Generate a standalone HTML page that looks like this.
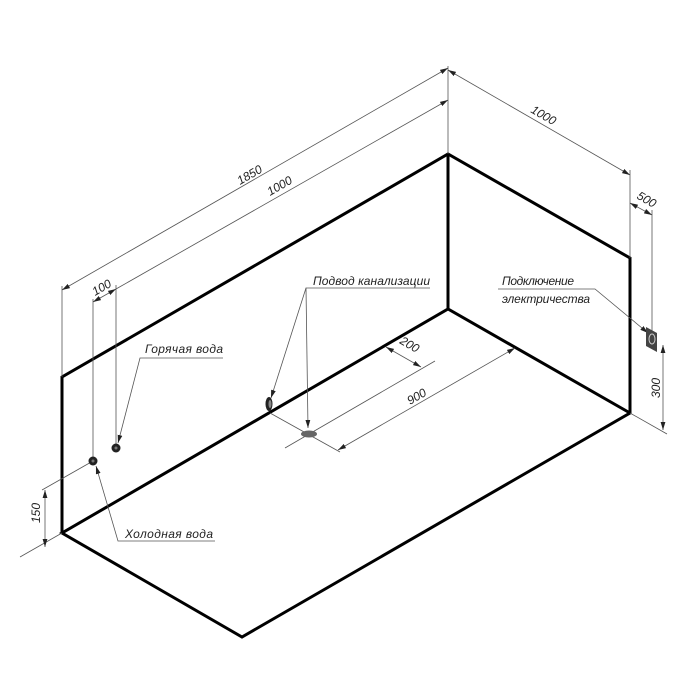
<!DOCTYPE html>
<html><head><meta charset="utf-8"><style>
html,body{margin:0;padding:0;background:#fff;}
svg{display:block}
text{font-family:"Liberation Sans",sans-serif;font-style:italic;font-size:12px;fill:#222;}
</style></head><body>
<svg width="700" height="700" viewBox="0 0 700 700" xmlns="http://www.w3.org/2000/svg">
<defs>
<marker id="a" viewBox="0 0 10 6" refX="10" refY="3" markerWidth="8" markerHeight="5" orient="auto-start-reverse" markerUnits="userSpaceOnUse"><path d="M0,0 L10,3 L0,6 z" fill="#222"/></marker>
</defs>
<g stroke="#000" stroke-width="3" fill="none" stroke-linejoin="miter">
<polyline points="62,533 62,377 448,154 630,258 630,413 242,637 62,533 448,309 630,413"/>
<line x1="448" y1="154" x2="448" y2="309"/>
</g>
<g stroke="#555" stroke-width="0.8" fill="none">
<line x1="62" y1="377" x2="62" y2="286"/>
<line x1="448" y1="154" x2="448" y2="66"/>
<line x1="93" y1="461" x2="93" y2="299"/>
<line x1="116" y1="447" x2="116" y2="285"/>
<line x1="630" y1="258" x2="630" y2="170"/>
<line x1="652" y1="336" x2="652" y2="210"/>
<line x1="630" y1="413" x2="667" y2="434"/>
<line x1="62" y1="533" x2="20" y2="557"/>
<line x1="93" y1="461" x2="42" y2="490"/>
<line x1="270" y1="413" x2="340" y2="452"/>
<line x1="285" y1="448" x2="435" y2="361"/>
<line x1="62" y1="290" x2="448" y2="68" marker-start="url(#a)" marker-end="url(#a)"/>
<line x1="116" y1="289" x2="448" y2="100" marker-end="url(#a)"/>
<line x1="93" y1="302" x2="116" y2="289" marker-start="url(#a)" marker-end="url(#a)"/>
<line x1="448" y1="70" x2="630" y2="175" marker-start="url(#a)" marker-end="url(#a)"/>
<line x1="630" y1="203" x2="652" y2="215" marker-start="url(#a)" marker-end="url(#a)"/>
<line x1="663" y1="345" x2="663" y2="430" marker-start="url(#a)" marker-end="url(#a)"/>
<line x1="45" y1="490" x2="45" y2="547" marker-start="url(#a)" marker-end="url(#a)"/>
<line x1="386" y1="347" x2="421" y2="367" marker-start="url(#a)" marker-end="url(#a)"/>
<line x1="338" y1="450" x2="515" y2="348" marker-start="url(#a)" marker-end="url(#a)"/>
<polyline points="430,288 306,288 308,428" marker-end="url(#a)"/>
<line x1="306" y1="288" x2="271" y2="398" marker-end="url(#a)"/>
<polyline points="223,358 140,358 118,443" marker-end="url(#a)"/>
<polyline points="215,541 118,541 96,466" marker-end="url(#a)"/>
<polyline points="498,289 595,289 648,333" marker-end="url(#a)"/>
</g>
<circle cx="93" cy="461" r="4.5" fill="#222"/><circle cx="93" cy="461" r="1.5" fill="#777"/>
<circle cx="116" cy="448" r="4.5" fill="#222"/><circle cx="116" cy="448" r="1.5" fill="#777"/>
<ellipse cx="269" cy="404" rx="3.5" ry="7" fill="#222"/><ellipse cx="270" cy="404" rx="1.5" ry="4" fill="#888"/>
<ellipse cx="309" cy="434" rx="8" ry="3.5" fill="#666"/>
<polygon points="646,327 657,333 657,352 646,346" fill="#444"/>
<ellipse cx="652" cy="339" rx="3" ry="5" fill="none" stroke="#ccc" stroke-width="1"/>
<text transform="translate(240,185) rotate(-30)">1850</text>
<text transform="translate(270,196) rotate(-30)">1000</text>
<text transform="translate(95,296) rotate(-30)">100</text>
<text transform="translate(530,112) rotate(30)">1000</text>
<text transform="translate(636,198) rotate(30)">500</text>
<text transform="translate(660,398) rotate(-90)">300</text>
<text transform="translate(40,523) rotate(-90)">150</text>
<text transform="translate(399,343) rotate(30)">200</text>
<text transform="translate(410,405) rotate(-30)">900</text>
<text x="313" y="285" textLength="117">Подвод канализации</text>
<text x="145" y="353" textLength="78">Горячая вода</text>
<text x="125" y="538" textLength="88">Холодная вода</text>
<text x="502" y="285" textLength="72">Подключение</text>
<text x="502" y="303" textLength="88">электричества</text>
</svg>
</body></html>
